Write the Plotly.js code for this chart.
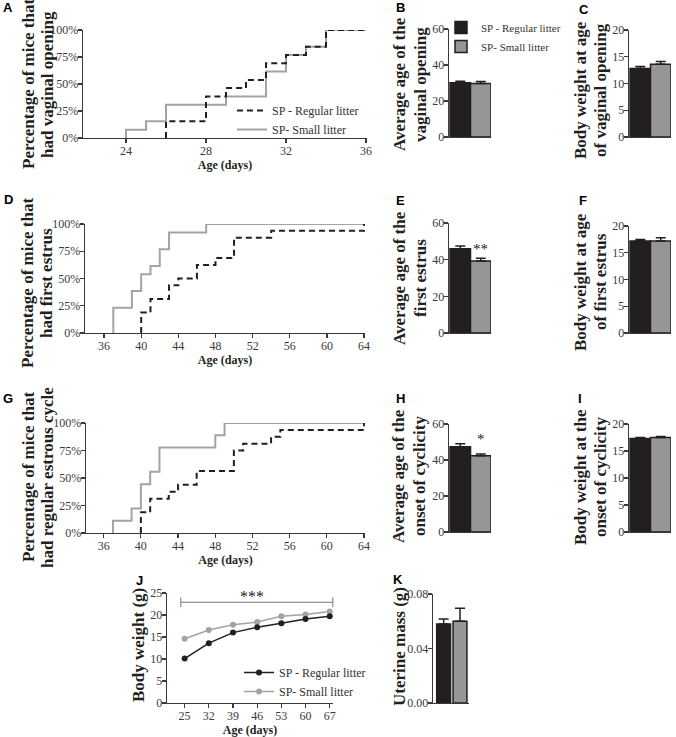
<!DOCTYPE html>
<html>
<head>
<meta charset="utf-8">
<script src="https://cdn.plot.ly/plotly-3.0.1.min.js"></script>
<style>
  html, body { margin: 0; padding: 0; background: #fff; }
  #myPlot { width: 676px; height: 737px; }
</style>
</head>
<body>
<div id="myPlot"></div>
<script>
// series names
var groupNames = ['SP - Regular litter', 'SP- Small litter'];

// A: vaginal opening, cumulative % by day
var voRegDays = [26, 28, 29, 30, 31, 32, 33, 34, 36];
var voRegPct = [15.4, 38.5, 46.2, 53.8, 69.2, 76.9, 84.6, 100, 100];
var voSmallDays = [24, 25, 26, 29, 31, 32, 33, 34, 36];
var voSmallPct = [7.7, 15.4, 30.8, 38.5, 61.5, 76.9, 84.6, 100, 100];

// D: first estrus
var feRegDays = [40, 41, 43, 44, 46, 48, 50, 54, 64];
var feRegPct = [18.75, 31.25, 43.75, 50, 62.5, 68.75, 87.5, 93.75, 100];
var feSmallDays = [37, 39, 40, 41, 42, 43, 47, 64];
var feSmallPct = [23.1, 38.5, 53.8, 61.5, 76.9, 92.3, 100, 100];

// G: regular estrous cycle
var ocRegDays = [40, 41, 43, 44, 46, 50, 51, 54, 55, 64];
var ocRegPct = [18.75, 31.25, 37.5, 43.75, 56.25, 75, 81.25, 87.5, 93.75, 100];
var ocSmallDays = [37, 39, 40, 41, 42, 48, 49, 64];
var ocSmallPct = [11.1, 22.2, 44.4, 55.6, 77.8, 88.9, 100, 100];

// percentage tick labels
var pctTicks = [0, 25, 50, 75, 100];
var pctLabels = ['0%', '25%', '50%', '75%', '100%'];

// bar panels: mean and SEM (regular, small)
var voAgeMean = [30.2, 29.7], voAgeSem = [0.8, 1.2];
var voWeightMean = [12.8, 13.6], voWeightSem = [0.4, 0.5];
var feAgeMean = [45.9, 39.3], feAgeSem = [1.6, 1.5];
var feWeightMean = [17.2, 17.2], feWeightSem = [0.3, 0.6];
var ocAgeMean = [47.3, 42.3], ocAgeSem = [1.7, 1.1];
var ocWeightMean = [17.3, 17.5], ocWeightSem = [0.2, 0.2];
var uterineMean = [0.058, 0.060], uterineSem = [0.0036, 0.0096];

// J: body weight over time
var bwDays = [25, 32, 39, 46, 53, 60, 67];
var bwRegular = [10.1, 13.6, 16.0, 17.2, 18.1, 19.1, 19.7];
var bwSmall = [14.6, 16.6, 17.8, 18.4, 19.7, 20.1, 20.8];
var sigBracketDays = [23.9, 67.9];
var sigBracketLevel = 22.9;

var W = 676, H = 737;
function px(p) { return p / W; }
function py(p) { return 1 - p / H; }

var black = '#231f20', barGray = '#969696', lineGray = '#a3a3a3', axisCol = '#3a3a3a';
var serif = 'Liberation Serif';

function axis(extra) {
    var a = {
        showline: true, linecolor: axisCol, linewidth: 1.3,
        ticks: 'outside', ticklen: 4, tickwidth: 1.2, tickcolor: axisCol,
        showgrid: false, zeroline: false, fixedrange: true,
        ticklabelstandoff: -3,
        tickfont: { family: serif, size: 12, color: '#3a3a3a' }
    };
    for (var k in extra) a[k] = extra[k];
    return a;
}

function stepTrace(days, pct, xa, ya, isRegular, showLeg) {
    return {
        type: 'scatter', mode: 'lines',
        x: [days[0]].concat(days), y: [0].concat(pct),
        xaxis: xa, yaxis: ya, cliponaxis: false,
        name: isRegular ? groupNames[0] : groupNames[1],
        legendrank: isRegular ? 1 : 2,
        showlegend: showLeg, legend: 'legend',
        line: { shape: 'hv', color: isRegular ? black : lineGray, width: 2, dash: isRegular ? '6px,4px' : 'solid' }
    };
}

function barPair(mean, sem, xa, ya, width, showLeg) {
    var out = [];
    for (var i = 0; i < 2; i++) {
        out.push({
            type: 'bar', x: [i], y: [mean[i]], width: width,
            xaxis: xa, yaxis: ya, name: groupNames[i],
            showlegend: showLeg, legend: 'legend2',
            marker: { color: i === 0 ? black : barGray, line: { color: black, width: 1.5 } },
            error_y: { type: 'data', symmetric: false, array: [sem[i]], arrayminus: [0], color: black, thickness: 1.5, width: 5 }
        });
    }
    return out;
}

var data = [];
// line panels (gray first, dashed on top)
data.push(stepTrace(voSmallDays, voSmallPct, 'x', 'y', false, true));
data.push(stepTrace(voRegDays, voRegPct, 'x', 'y', true, true));
data.push(stepTrace(feSmallDays, feSmallPct, 'x4', 'y4', false, false));
data.push(stepTrace(feRegDays, feRegPct, 'x4', 'y4', true, false));
data.push(stepTrace(ocSmallDays, ocSmallPct, 'x7', 'y7', false, false));
data.push(stepTrace(ocRegDays, ocRegPct, 'x7', 'y7', true, false));

// bar panels
data = data.concat(barPair(voAgeMean, voAgeSem, 'x2', 'y2', 1, true));
data = data.concat(barPair(voWeightMean, voWeightSem, 'x3', 'y3', 1, false));
data = data.concat(barPair(feAgeMean, feAgeSem, 'x5', 'y5', 1, false));
data = data.concat(barPair(feWeightMean, feWeightSem, 'x6', 'y6', 1, false));
data = data.concat(barPair(ocAgeMean, ocAgeSem, 'x8', 'y8', 1, false));
data = data.concat(barPair(ocWeightMean, ocWeightSem, 'x9', 'y9', 1, false));
data = data.concat(barPair(uterineMean, uterineSem, 'x11', 'y11', 0.85, false));

// J: body weight curves
data.push({
    type: 'scatter', mode: 'lines+markers', x: bwDays, y: bwSmall,
    xaxis: 'x10', yaxis: 'y10', name: groupNames[1], legend: 'legend3', legendrank: 2,
    line: { color: lineGray, width: 1.5 }, marker: { color: lineGray, size: 6 }
});
data.push({
    type: 'scatter', mode: 'lines+markers', x: bwDays, y: bwRegular,
    xaxis: 'x10', yaxis: 'y10', name: groupNames[0], legend: 'legend3', legendrank: 1,
    line: { color: black, width: 1.5 }, marker: { color: black, size: 6 }
});
data.push({
    type: 'scatter', mode: 'lines+markers', x: sigBracketDays, y: [sigBracketLevel, sigBracketLevel],
    xaxis: 'x10', yaxis: 'y10', showlegend: false, cliponaxis: false,
    line: { color: '#777', width: 1 },
    marker: { symbol: 'line-ns-open', size: 7, line: { color: '#777', width: 1 } }
});

var xTitle = function (standoff) {
    return { text: '<b>Age (days)</b>', font: { family: serif, size: 12, color: black }, standoff: standoff };
};
var pctY = { range: [0, 100], tickvals: pctTicks, ticktext: pctLabels };
var barX = { range: [-0.55, 1.5], ticks: '', showticklabels: false };

function merge(a, b) { var o = {}; for (var k in a) o[k] = a[k]; for (var j in b) o[j] = b[j]; return o; }

var legFont = { family: serif, size: 12, color: '#333' };

var layout = {
    width: W, height: H,
    margin: { l: 0, r: 0, t: 0, b: 0 },
    paper_bgcolor: '#fff', plot_bgcolor: 'rgba(0,0,0,0)',
    barmode: 'overlay',
    font: { family: serif, color: black },

    // A
    xaxis: axis({ domain: [px(83), px(367)], range: [21.85, 36.05], tickvals: [24, 28, 32, 36], anchor: 'y', title: xTitle(0) }),
    yaxis: axis(merge(pctY, { domain: [py(138), py(30)], anchor: 'x' })),
    // B
    xaxis2: axis(merge(barX, { domain: [px(449), px(491)], anchor: 'y2' })),
    yaxis2: axis({ domain: [py(137), py(29)], range: [0, 60], tickvals: [0, 20, 40, 60], anchor: 'x2' }),
    // C
    xaxis3: axis(merge(barX, { domain: [px(629), px(671)], anchor: 'y3' })),
    yaxis3: axis({ domain: [py(137), py(30)], range: [0, 20], tickvals: [0, 5, 10, 15, 20], anchor: 'x3' }),
    // D
    xaxis4: axis({ domain: [px(85), px(365)], range: [33.95, 64.1], tickvals: [36, 40, 44, 48, 52, 56, 60, 64], anchor: 'y4', title: xTitle(0) }),
    yaxis4: axis(merge(pctY, { domain: [py(333), py(224)], anchor: 'x4' })),
    // E
    xaxis5: axis(merge(barX, { domain: [px(449), px(491)], anchor: 'y5' })),
    yaxis5: axis({ domain: [py(333), py(223)], range: [0, 60], tickvals: [0, 20, 40, 60], anchor: 'x5' }),
    // F
    xaxis6: axis(merge(barX, { domain: [px(629), px(671)], anchor: 'y6' })),
    yaxis6: axis({ domain: [py(333), py(226)], range: [0, 20], tickvals: [0, 5, 10, 15, 20], anchor: 'x6' }),
    // G
    xaxis7: axis({ domain: [px(86), px(365)], range: [34.1, 64.1], tickvals: [36, 40, 44, 48, 52, 56, 60, 64], anchor: 'y7', title: xTitle(0) }),
    yaxis7: axis(merge(pctY, { domain: [py(533), py(423)], anchor: 'x7' })),
    // H
    xaxis8: axis(merge(barX, { domain: [px(449), px(491)], anchor: 'y8' })),
    yaxis8: axis({ domain: [py(532), py(424)], range: [0, 60], tickvals: [0, 20, 40, 60], anchor: 'x8' }),
    // I
    xaxis9: axis(merge(barX, { domain: [px(629), px(671)], anchor: 'y9' })),
    yaxis9: axis({ domain: [py(532), py(424)], range: [0, 20], tickvals: [0, 5, 10, 15, 20], anchor: 'x9' }),
    // J
    xaxis10: axis({ domain: [px(167), px(333)], range: [19.9, 67.95], tickvals: bwDays, anchor: 'y10', title: xTitle(0) }),
    yaxis10: axis({ domain: [py(703), py(593)], range: [0, 25], tickvals: [0, 5, 10, 15, 20, 25], anchor: 'x10' }),
    // K
    xaxis11: axis({ domain: [px(433), px(469)], range: [-0.65, 1.55], ticks: '', showticklabels: false, anchor: 'y11' }),
    yaxis11: axis({ domain: [py(703), py(594)], range: [0, 0.08], tickvals: [0, 0.04, 0.08], tickformat: '.2f', anchor: 'x11' }),

    legend: { x: px(232), y: py(96), xanchor: 'left', yanchor: 'top', bgcolor: 'rgba(0,0,0,0)',
        font: legFont, tracegroupgap: 0 },
    legend2: { x: px(441), y: py(13), xanchor: 'left', yanchor: 'top', bgcolor: 'rgba(0,0,0,0)',
        font: { family: serif, size: 11, color: '#333' }, tracegroupgap: 0 },
    legend3: { x: px(239), y: py(658), xanchor: 'left', yanchor: 'top', bgcolor: 'rgba(0,0,0,0)',
        font: legFont, tracegroupgap: 0 },

    annotations: []
};

// y-axis titles, one annotation per line: [text, x px, y px]
var yTitles = [
    ['Percentage of mice that', 28, 84], ['had vaginal opening', 47, 84],
    ['Average age of the', 399, 84], ['vaginal opening', 420, 84],
    ['Body weight at age', 580, 90], ['of vaginal opening', 600, 90],
    ['Percentage of mice that', 28, 283], ['had first estrus', 47, 283],
    ['Average age of the', 399, 278], ['first estrus', 420, 278],
    ['Body weight at age', 580, 282], ['of first estrus', 600, 282],
    ['Percentage of mice that', 28, 477], ['had regular estrous cycle', 47, 477],
    ['Average age of the', 399, 476], ['onset of cyclicity', 420, 476],
    ['Body weight at the', 580, 477], ['onset of cyclicity', 600, 477],
    ['Body weight (g)', 138, 645],
    ['Uterine mass (g)', 399, 647]
];
yTitles.forEach(function (t) {
    layout.annotations.push({
        xref: 'paper', yref: 'paper', x: px(t[1]), y: py(t[2]), text: '<b>' + t[0] + '</b>',
        textangle: -90, showarrow: false, xanchor: 'center', yanchor: 'middle',
        font: { family: serif, size: 17, color: black }
    });
});

// panel letters
var panelLetters = [['A', 8, 8], ['B', 400, 8], ['C', 584, 9], ['D', 8, 199], ['E', 400, 200], ['F', 583, 200],
    ['G', 8, 398], ['H', 400, 398], ['I', 580, 398], ['J', 139, 580], ['K', 398, 579]];
panelLetters.forEach(function (p) {
    layout.annotations.push({
        xref: 'paper', yref: 'paper', x: px(p[1]), y: py(p[2]), text: '<b>' + p[0] + '</b>',
        showarrow: false, xanchor: 'center', yanchor: 'middle',
        font: { family: 'Liberation Sans', size: 13, color: '#000' }
    });
});

// significance marks
layout.annotations.push({ xref: 'x5', yref: 'y5', x: 1, y: feAgeMean[1] + feAgeSem[1] + 5, text: '**', showarrow: false,
    yanchor: 'middle', font: { family: serif, size: 15, color: '#222' } });
layout.annotations.push({ xref: 'x8', yref: 'y8', x: 1, y: ocAgeMean[1] + ocAgeSem[1] + 8, text: '*', showarrow: false,
    yanchor: 'middle', font: { family: serif, size: 15, color: '#222' } });
layout.annotations.push({ xref: 'x10', yref: 'y10', x: 44.4, y: sigBracketLevel + 1.2, text: '***', showarrow: false,
    yanchor: 'middle', font: { family: serif, size: 16, color: '#222' } });

Plotly.newPlot('myPlot', data, layout, { staticPlot: true });
</script>
</body>
</html>
